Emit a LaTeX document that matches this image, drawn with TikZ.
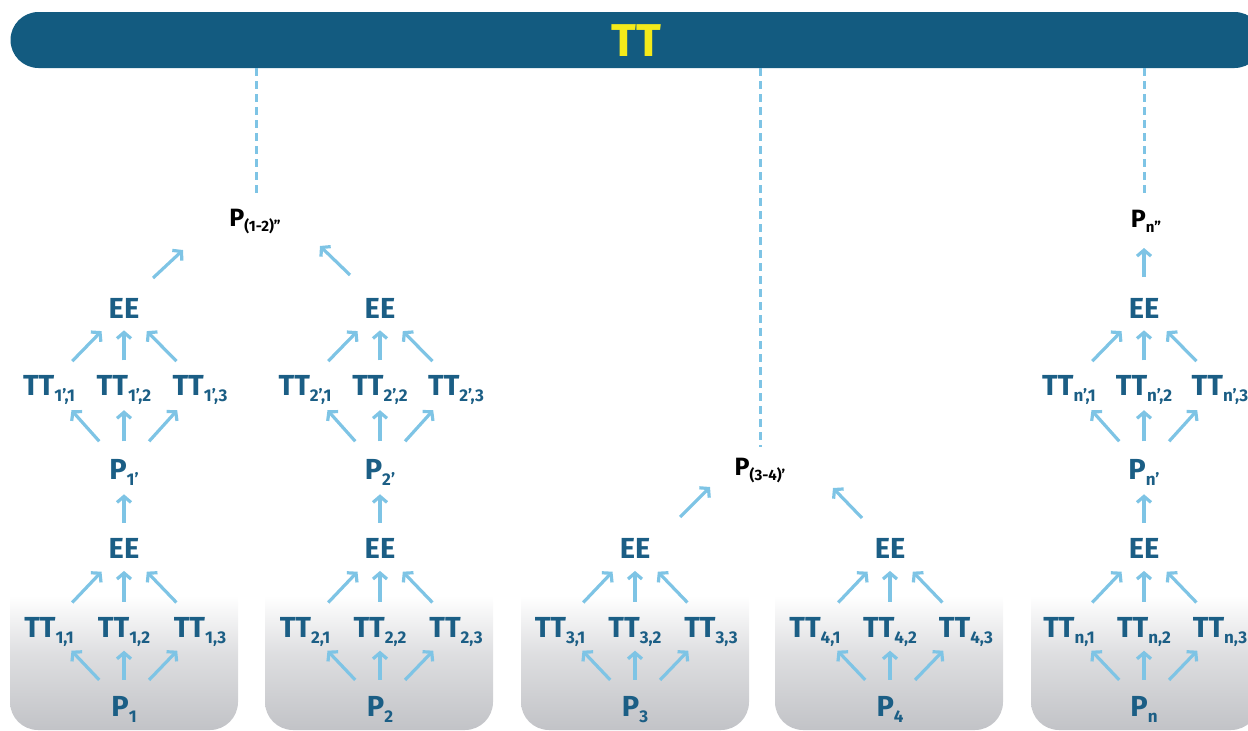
\documentclass[tikz,border=0pt]{standalone}
\usepackage{fontspec}
\setmainfont{Fira Sans}
\usetikzlibrary{arrows.meta,calc}

\definecolor{barblue}{HTML}{135B80}
\definecolor{txtblue}{HTML}{1B5E85}
\definecolor{arrblue}{HTML}{7EC4E5}
\definecolor{ttyellow}{HTML}{F4EA1A}
\definecolor{boxgray}{HTML}{C2C3C7}

% vertical fade: white in the upper part, gray at the bottom
\pgfdeclareverticalshading{panelfade}{100bp}{%
  color(0bp)=(boxgray); color(25bp)=(boxgray);
  color(43bp)=(white!45!boxgray); color(57bp)=(white);
  color(100bp)=(white)}

% label with a lowered index
\newcommand\lbl[2]{#1\raisebox{-6pt}{\fontsize{17}{17}\selectfont #2}}
\newcommand\lbltop[2]{#1\raisebox{-5pt}{\fontsize{15}{15}\selectfont #2}}

% arrow along the line between two nodes, from fraction #3 to fraction #4
\newcommand\arrowpart[4]{\draw[arr] ($(#1)!#3!(#2)$) -- ($(#1)!#4!(#2)$);}

% lower tree: P -> three TT -> EE
\newcommand\basetree[3]{%
  \node[lab] (p#1) at (#2,706) {\lbl{P}{#3}};
  \node[lab] (ta#1) at (#2-75,627) {\lbl{TT}{#3,1}};
  \node[lab] (tb#1) at (#2,627) {\lbl{TT}{#3,2}};
  \node[lab] (tc#1) at (#2+76,627) {\lbl{TT}{#3,3}};
  \node[lab] (e#1) at (#2,548) {EE};
  \arrowpart{p#1}{ta#1}{0.33}{0.70}
  \arrowpart{p#1}{tb#1}{0.33}{0.70}
  \arrowpart{p#1}{tc#1}{0.33}{0.70}
  \arrowpart{ta#1}{e#1}{0.31}{0.70}
  \arrowpart{tb#1}{e#1}{0.32}{0.71}
  \arrowpart{tc#1}{e#1}{0.31}{0.70}
}

% upper tree on top of a lower one: EE -> P' -> three TT -> EE
\newcommand\uppertree[3]{%
  \node[lab] (q#1) at (#2,469) {\lbl{P}{#3}};
  \node[lab] (ua#1) at (#2-75,385) {\lbl{TT}{#3,1}};
  \node[lab] (ub#1) at (#2,385) {\lbl{TT}{#3,2}};
  \node[lab] (uc#1) at (#2+76,385) {\lbl{TT}{#3,3}};
  \node[lab] (f#1) at (#2,308) {EE};
  \arrowpart{e#1}{q#1}{0.32}{0.68}
  \arrowpart{q#1}{ua#1}{0.33}{0.70}
  \arrowpart{q#1}{ub#1}{0.33}{0.70}
  \arrowpart{q#1}{uc#1}{0.33}{0.70}
  \arrowpart{ua#1}{f#1}{0.31}{0.70}
  \arrowpart{ub#1}{f#1}{0.32}{0.71}
  \arrowpart{uc#1}{f#1}{0.31}{0.70}
}

\begin{document}
\begin{tikzpicture}[x=1pt,y=-1pt,
  lab/.style={text=txtblue, font=\fontsize{29}{29}\selectfont\bfseries,
    inner sep=0pt, text height=20pt, text depth=0pt},
  toplab/.style={text=black, font=\fontsize{25}{25}\selectfont\bfseries,
    inner sep=0pt, text height=17pt, text depth=0pt},
  arr/.style={draw=arrblue, line width=3.2pt,
    -{Straight Barb[length=6pt,width=14pt]}},
  guide/.style={draw=arrblue, line width=3pt, dash pattern=on 8pt off 5pt},
  panel/.style={shading=panelfade, rounded corners=28pt},
  bar/.style={fill=barblue, rounded corners=28pt, minimum width=1252pt,
    minimum height=56pt, inner sep=0pt, text=ttyellow,
    font=\fontsize{46}{46}\selectfont\bfseries, text height=32pt, text depth=0pt}]
\useasboundingbox (0,0) rectangle (1248,731);

% shaded panels behind the lower trees (upper part white, so only the bottom shows)
\foreach \x in {10,265,521,775,1031}
  \shade[panel] (\x,520) rectangle ++(228,210);

% title bar
\node[bar] (bar) at (636.5,40) {TT};

% trees
\basetree{1}{124}{1}
\basetree{2}{380}{2}
\basetree{3}{635}{3}
\basetree{4}{890}{4}
\basetree{5}{1144}{n}
\uppertree{1}{124}{1’}
\uppertree{2}{380}{2’}
\uppertree{5}{1144}{n’}

% combined results
\node[toplab] (p12) at (255,218) {\lbltop{P}{(1-2)”}};
\node[toplab] (p34) at (760,467) {\lbltop{P}{(3-4)’}};
\node[toplab] (pn) at (1146,219) {\lbltop{P}{n”}};

\draw[arr] ($(f1)+(29,-30)$) -- ($(p12)+(-72,32)$);
\draw[arr] ($(f2)+(-30,-33)$) -- ($(p12)+(65,28)$);
\draw[arr] ($(e3)+(45,-31)$) -- ($(p34)+(-50,20)$);
\draw[arr] ($(e4)+(-28,-30)$) -- ($(p34)+(73,21)$);
\draw[arr] ($(f5)+(0,-31)$) -- ($(pn)+(-2,29)$);

% links up to the title bar
\draw[guide] (bar.south -| 256,0) -- ($(p12)+(1,-21)$);
\draw[guide] (bar.south -| p34) -- ($(p34)+(0,-20)$);
\draw[guide] (bar.south -| 1144,0) -- ($(pn)+(-2,-22)$);
\end{tikzpicture}
\end{document}
